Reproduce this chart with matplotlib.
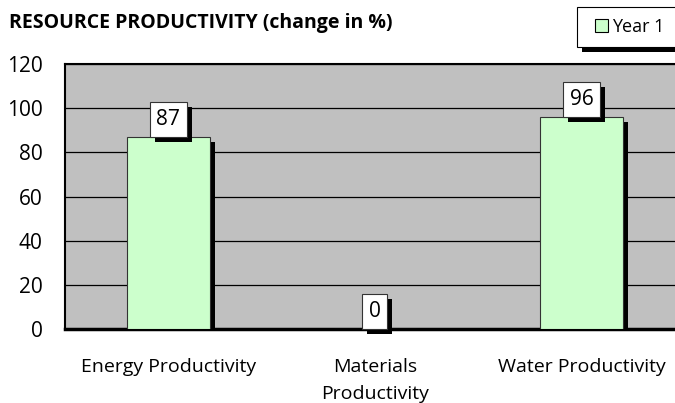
import matplotlib
matplotlib.use("Agg")
import matplotlib.pyplot as plt
import matplotlib.patheffects as pe
from matplotlib.patches import Rectangle
from matplotlib.legend_handler import HandlerPatch

categories = ["Energy Productivity", "Materials\nProductivity", "Water Productivity"]
year1 = [87, 0, 96]
yticks = [0, 20, 40, 60, 80, 100, 120]

plt.rcParams["font.family"] = ["Open Sans", "DejaVu Sans"]

fig = plt.figure(figsize=(6.75, 4.03), dpi=100)
ax = fig.add_axes([0.0963, 0.1836, 0.918, 0.6575])
ax.set_facecolor("#c0c0c0")

# black drop shadow down-right, like the old Excel charts
shadow = [pe.SimplePatchShadow(offset=(3.6, -3.6), shadow_rgbFace="black", alpha=1), pe.Normal()]

x = range(len(categories))
bars = ax.bar(x, year1, width=0.4, color="#ccffcc", edgecolor="#333333", linewidth=0.8, zorder=3)
for b in bars:
    b.set_path_effects(shadow)

ax.set_ylim(0, 120)
ax.set_xlim(-0.5, 2.5)
ax.set_yticks(yticks)
ax.yaxis.grid(True, color="black", linewidth=0.9, zorder=0)
ax.set_axisbelow(True)
ax.tick_params(axis="y", length=0, pad=16, labelsize=15)
ax.tick_params(axis="x", length=0, pad=21, labelsize=14)
ax.set_xticks(list(x))
ax.set_xticklabels(categories, linespacing=1.6)

for s in ["left", "top"]:
    ax.spines[s].set_linewidth(1.5)
ax.spines["bottom"].set_linewidth(2.5)

for xi, v in zip(x, year1):
    t = ax.annotate(str(v), (xi, v), xytext=(0, 5), textcoords="offset points",
                    ha="center", va="bottom", fontsize=15, zorder=5,
                    bbox=dict(boxstyle="square,pad=0.32", fc="white", ec="#333333", lw=0.8))
    t.get_bbox_patch().set_path_effects(shadow)

fig.text(0.013, 1 - 23 / 403, "RESOURCE PRODUCTIVITY (change in %)", fontsize=14,
         fontweight="bold", va="center", ha="left")


def square_handle(legend, orig_handle, xdescent, ydescent, width, height, fontsize):
    # square sitting at the right end of the handle slot
    return Rectangle((width - height - xdescent, -ydescent), height, height)


handle = Rectangle((0, 0), 1, 1, fc="#ccffcc", ec="black", lw=0.8)
leg = fig.legend([handle], ["Year 1 "], loc="upper left", bbox_to_anchor=(577 / 675, 1 - 7 / 403),
                 fancybox=False, edgecolor="black", framealpha=1, fontsize=13,
                 handlelength=1.1, handleheight=0.72, handletextpad=0.25, borderpad=0.6,
                 borderaxespad=0, handler_map={Rectangle: HandlerPatch(patch_func=square_handle)})
leg.get_frame().set_linewidth(0.8)
leg.get_frame().set_path_effects(shadow)

fig.savefig("out.png", dpi=100)
